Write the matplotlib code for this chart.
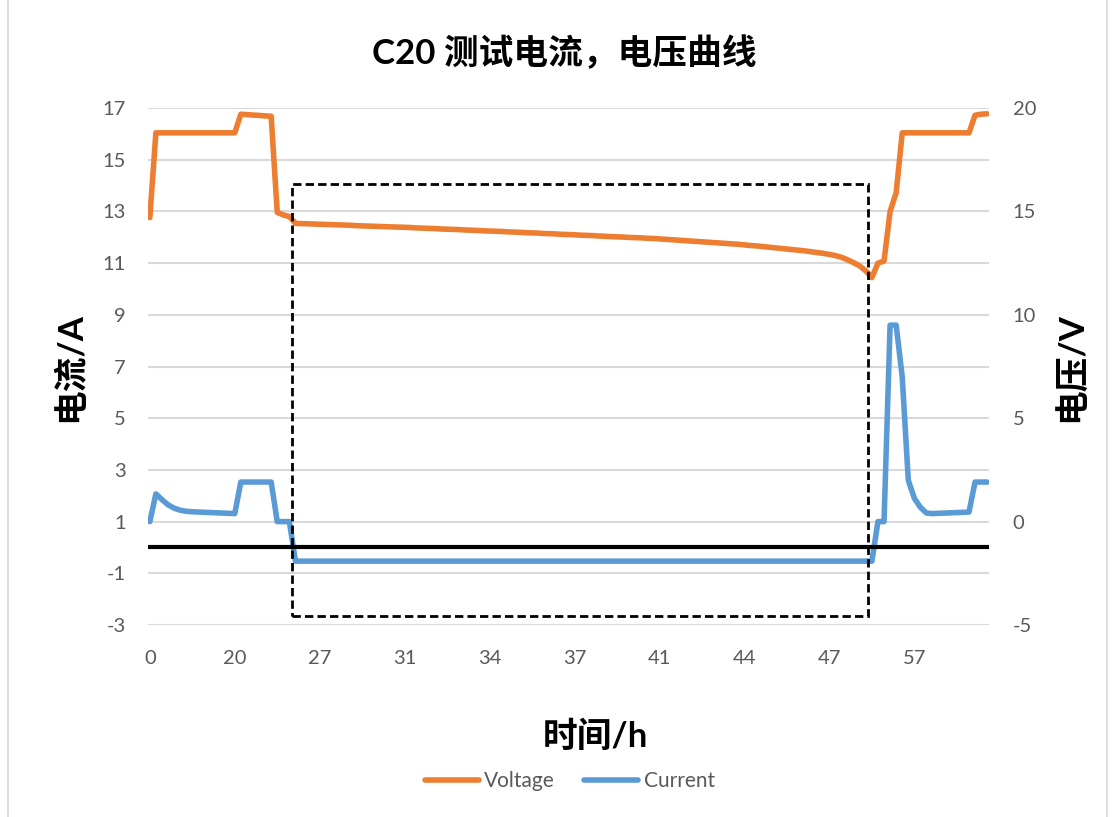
import matplotlib
matplotlib.use("Agg")
import matplotlib.pyplot as plt
from matplotlib.patches import Rectangle
from matplotlib.lines import Line2D
import numpy as np

plt.rcParams['font.family'] = ['Lato', 'Noto Sans CJK SC', 'DejaVu Sans']
plt.rcParams['axes.unicode_minus'] = False

x_labels = ['0', '20', '27', '31', '34', '37', '41', '44', '47', '57']
label_step = 14

voltage_decline = [
    14.42, 14.41, 14.40, 14.39, 14.38, 14.37, 14.36, 14.35, 14.34, 14.33, 14.31, 14.30,
    14.29, 14.28, 14.27, 14.26, 14.25, 14.24, 14.23, 14.22, 14.20, 14.19, 14.18, 14.17,
    14.15, 14.14, 14.13, 14.12, 14.10, 14.09, 14.08, 14.06, 14.05, 14.04, 14.03, 14.01,
    14.00, 13.99, 13.97, 13.96, 13.95, 13.93, 13.92, 13.91, 13.89, 13.88, 13.87, 13.85,
    13.84, 13.83, 13.81, 13.80, 13.78, 13.77, 13.76, 13.74, 13.73, 13.72, 13.70, 13.69,
    13.67, 13.65, 13.63, 13.61, 13.59, 13.57, 13.55, 13.53, 13.51, 13.49, 13.47, 13.45,
    13.43, 13.41, 13.38, 13.35, 13.33, 13.30, 13.27, 13.24, 13.21, 13.18, 13.15, 13.12,
    13.09, 13.05, 13.01, 12.97, 12.92, 12.86, 12.78, 12.66, 12.52, 12.36, 12.12, 11.80,
]

voltage = ([14.7, 18.8] + [18.8] * 13
           + [19.7, 19.68, 19.66, 19.64, 19.62, 19.6]
           + [14.95, 14.83, 14.75]
           + voltage_decline
           + [12.5, 12.6, 15.0, 15.9]
           + [18.8] * 12
           + [19.65, 19.7, 19.72])

current = ([1.0, 2.07, 1.85, 1.65, 1.52, 1.44, 1.40, 1.38, 1.37, 1.36, 1.35, 1.34, 1.33, 1.32, 1.31]
           + [2.53] * 6
           + [1.0] * 3
           + [-0.53] * 96
           + [1.0, 1.0, 8.6, 8.6, 6.6, 2.6, 1.9, 1.55, 1.33, 1.31, 1.32, 1.33, 1.34, 1.35, 1.36, 1.37]
           + [2.53] * 3)

ORANGE = '#ED7D31'
BLUE = '#5B9BD5'
GREY_TXT = '#595959'
GRID = '#D9D9D9'
LW = 4.0

idx = np.arange(len(voltage))

fig = plt.figure(figsize=(11.13, 8.17), dpi=100)
ax = fig.add_axes([148 / 1113, 1 - 625 / 817, (989 - 148) / 1113, (625 - 108) / 817])
ax2 = ax.twinx()

# --- courant (axe principal) ---
ax.plot(idx, current, color=BLUE, lw=LW, solid_joinstyle='round', solid_capstyle='round', zorder=3)
ax.set_ylim(-3, 17)
ax.set_yticks(np.arange(-3, 18, 2))
ax.set_xlim(-0.3, len(voltage) - 0.7)
ax.set_xticks(np.arange(0, len(x_labels) * label_step, label_step))
ax.set_xticklabels(x_labels)
ax.grid(axis='y', color=GRID, lw=1.5, zorder=0)
ax.axhline(0, color='black', lw=3, zorder=5)

# --- tension (axe secondaire) ---
ax2.plot(idx, voltage, color=ORANGE, lw=LW, solid_joinstyle='round', solid_capstyle='round', zorder=3)
ax2.set_ylim(-5, 20)
ax2.set_yticks(np.arange(-5, 21, 5))

for a in (ax, ax2):
    for s in a.spines.values():
        s.set_visible(False)
ax.tick_params(axis='y', length=0, pad=16, labelsize=14.5, labelcolor=GREY_TXT)
ax.tick_params(axis='x', length=0, pad=18, labelsize=14.5, labelcolor=GREY_TXT)
ax2.tick_params(axis='y', length=0, pad=17, labelsize=14.5, labelcolor=GREY_TXT)

# --- cadre pointillé (zone de décharge) ---
fig.patches.append(Rectangle((292 / 1113, 1 - 616 / 817), (868 - 292) / 1113, (616 - 184) / 817,
                             transform=fig.transFigure, fill=False, edgecolor='black',
                             lw=2, linestyle=(0, (3, 1.5)), zorder=10))

# --- titres ---
fig.text(0.507, 0.936, 'C20 测试电流，电压曲线', ha='center', va='center', fontsize=25, fontweight='bold')
fig.text(0.063, 0.551, '电流/A', ha='center', va='center', rotation=90, fontsize=25, fontweight='bold')
fig.text(0.963, 0.551, '电压/V', ha='center', va='center', rotation=90, fontsize=25, fontweight='bold')
fig.text(0.535, 0.098, '时间/h', ha='center', va='center', fontsize=25, fontweight='bold')

handles = [Line2D([], [], color=ORANGE, lw=LW, solid_capstyle='round'),
           Line2D([], [], color=BLUE, lw=LW, solid_capstyle='round')]
leg = fig.legend(handles, ['Voltage', 'Current'], loc='center', bbox_to_anchor=(0.512, 0.044),
                 ncol=2, frameon=False, fontsize=15, handlelength=2.6, handletextpad=0.25,
                 columnspacing=1.4)
for t in leg.get_texts():
    t.set_color(GREY_TXT)

# bordure de la zone du graphique
fig.patches.append(Rectangle((8 / 1113, -0.01), 1099 / 1113, 1.02, transform=fig.transFigure,
                             fill=False, edgecolor=GRID, lw=1.2))

fig.savefig('out.png', dpi=100)
